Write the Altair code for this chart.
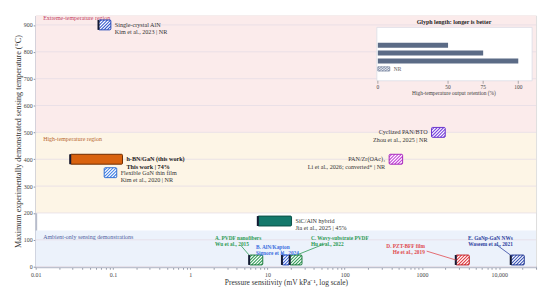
import math
import altair as alt
import pandas as pd

# ---------------- data ----------------
band_name = ["Extreme", "High", "Ambient"]
band_lo = [500, 200, 0]
band_hi = [935, 500, 135]
band_text = ["Extreme-temperature region", "High-temperature region",
             "Ambient-only sensing demonstrations"]
band_text_x = [0.0125, 0.0125, 0.0125]
band_text_t = [927, 477, 112]

y_ticks = [0, 100, 200, 300, 400, 500, 600, 700, 800, 900]
x_major = [0.01, 0.1, 1, 10, 100, 1000, 10000]
x_major_labels = ["0.01", "0.1", "1", "10", "100", "1000", "10,000"]

dev_name = ["Single-crystal AlN", "h-BN/GaN (this work)", "Flexible GaN thin film",
            "Cyclized PAN/BTO", "PAN/Zr(OAc)₄", "SiC/AlN hybrid",
            "A. PVDF nanofibers", "B. AlN/Kapton", "C. Wavy-substrate PVDF",
            "D. PZT-BFF film", "E. GaNp-GaN NWs"]
dev_ref = ["Kim et al., 2023 | NR", "This work | 74%", "Kim et al., 2020 | NR",
           "Zhou et al., 2025 | NR", "Li et al., 2026; converted* | NR",
           "Jia et al., 2025 | 45%", "Wu et al., 2015", "Signore et al., 2024",
           "Hu et al., 2022", "He et al., 2019", "Waseem et al., 2021"]
dev_lo = [0.065, 0.028, 0.077, 1330, 376, 7.5, 5.8, 15.4, 19.4, 2740, 14100]
dev_hi = [0.094, 0.133, 0.112, 2000, 562, 20.5, 8.7, 19.4, 28, 4100, 21100]
dev_temp = [900, 400, 350, 500, 400, 170, 25, 25, 25, 25, 25]
dev_style = ["hatch", "solid", "hatch", "hatch", "hatch", "solid",
             "hatch", "hatch", "hatch", "hatch", "hatch"]
dev_edge = [1, 1, 0, 0, 0, 1, 1, 1, 1, 1, 1]

label_side = ["right", "right", "right", "left", "left", "right"]
label_bold = [0, 1, 0, 0, 0, 0]

callout_x = [2.1, 7.1, 36.5, 1090, 15000]
callout_t = [105, 74, 105, 76, 107]
callout_align = ["left", "left", "left", "right", "right"]
leader_x1 = [4.5, 15.0, 56, 1150, 9400]
leader_t1 = [80, 60, 86, 58, 80]
leader_x2 = [5.8, 15.7, 23.7, 2740, 14500]
leader_t2 = [43, 43, 43, 25, 40]

inset_values = [50, 75, 100]
inset_rows = [0, 1, 2]
inset_ticks = [0, 50, 75, 100]
nr_lo, nr_hi, nr_row = 0, 8.5, 3

# ---------------- styles ----------------
band_fill = ["#fbebeb", "#fdf5e6", "#ecf2fb"]
band_text_color = ["#c2405f", "#b8672e", "#4f5f9e"]
dev_fill = ["#2f55cc", "#d9620f", "#3f7fe6", "#7a44e0", "#c43fd8", "#14786b",
            "#2e9b55", "#3a62da", "#2e9b55", "#e0393f", "#3550b5"]
dev_stroke = ["#2a4cb8", "#6e2c00", "#3a73d2", "#6a35cc", "#a82fbc", "#0b4f46",
              "#257f45", "#2f50b8", "#257f45", "#c42a30", "#2a3f95"]
callout_color = ["#2e9b55", "#3a6ee0", "#2e9b55", "#e04a4f", "#2f43a0"]

FONT = "Liberation Serif"
W_PLOT, H_PLOT = 506, 254
X_DOM = [0.01, 30000]
Y_DOM = [0, 935]
PX_DEC = W_PLOT / math.log10(X_DOM[1] / X_DOM[0])
PX_DEG = H_PLOT / (Y_DOM[1] - Y_DOM[0])
BOX_H = 10
HALF_T = BOX_H / 2 / PX_DEG
SP = 3.2

# ---------------- frames ----------------
bands = pd.DataFrame({"name": band_name, "lo": band_lo, "hi": band_hi, "fill": band_fill})
band_lab = pd.DataFrame({"text": band_text, "x": band_text_x, "t": band_text_t,
                         "c": band_text_color})
grid = pd.DataFrame({"t": y_ticks})
dev = pd.DataFrame({"name": dev_name, "ref": dev_ref, "lo": dev_lo, "hi": dev_hi,
                    "temp": dev_temp, "style": dev_style, "edge": dev_edge,
                    "fill": dev_fill, "stroke": dev_stroke})
lab = dev.iloc[:6].copy()
lab["side"] = label_side
lab["bold"] = label_bold
lab["text"] = lab["name"] + "\n" + lab["ref"]
lab["ax"] = [h if s == "right" else l for h, l, s in zip(lab["hi"], lab["lo"], label_side)]
call = pd.DataFrame({"text": [n + "\n" + r for n, r in zip(dev_name[6:], dev_ref[6:])],
                     "x": callout_x, "t": callout_t, "c": callout_color,
                     "align": callout_align,
                     "x1": leader_x1, "t1": leader_t1, "x2": leader_x2, "t2": leader_t2})

minor = []
for k in range(-2, 5):
    for m in range(1, 10):
        v = m * 10 ** k if k >= 0 else m / 10 ** (-k)
        if v <= X_DOM[1]:
            minor.append(v)
label_expr = ""
for v, s in zip(x_major, x_major_labels):
    label_expr += f"abs(datum.value/{v} - 1) < 1e-6 ? '{s}' : "
label_expr += "''"

xs = alt.Scale(type="log", domain=X_DOM, nice=False)
ys = alt.Scale(domain=Y_DOM, nice=False, zero=False)
x_axis = alt.Axis(title="Pressure sensitivity (mV kPa⁻¹, log scale)", values=minor,
                  labelExpr=label_expr, grid=False, tickSize=2.5, tickColor="#8d93a3",
                  domainColor="#b7bccb", domainWidth=2, labelFontSize=6,
                  labelColor="#444", titleFontSize=7.5, titleFontWeight="normal",
                  titleColor="#333", labelPadding=2, titlePadding=2, labelFlush=False)
y_axis = alt.Axis(title="Maximum experimentally demonstrated sensing temperature (°C)",
                  values=y_ticks, grid=False, tickSize=2.5, tickColor="#8d93a3",
                  domainColor="#b7bccb", domainWidth=2, labelFontSize=6,
                  labelColor="#444", titleFontSize=8.2, titleFontWeight="normal",
                  titleColor="#333", labelPadding=1, titlePadding=1)


def X(f):
    return alt.X(f, type="quantitative", scale=xs, axis=x_axis)


def Y(f):
    return alt.Y(f, type="quantitative", scale=ys, axis=y_axis)


band_layer = alt.Chart(bands).mark_rect().encode(
    x=alt.value(0), x2=alt.value(W_PLOT), y=Y("lo"), y2="hi",
    fill=alt.Fill("fill:N", scale=None))
grid_layer = alt.Chart(grid).mark_rule(color="#e5dde6", strokeWidth=0.8).encode(
    x=alt.value(0), x2=alt.value(W_PLOT), y=Y("t"))
band_text_layer = alt.Chart(band_lab).mark_text(
    align="left", baseline="middle", font=FONT, fontSize=6).encode(
    x=X("x"), y=Y("t"), text="text:N", color=alt.Color("c:N", scale=None))

boxes = alt.Chart(dev).transform_calculate(
    y1=f"datum.temp - {HALF_T}", y2=f"datum.temp + {HALF_T}")
box_fill = boxes.mark_rect(cornerRadius=1).encode(
    x=X("lo"), x2="hi", y=Y("y1"), y2="y2", fill=alt.Fill("fill:N", scale=None))
hatch = alt.Chart(dev).transform_filter("datum.style == 'hatch'").transform_calculate(
    W=f"log(datum.hi/datum.lo)/LN10*{PX_DEC}", ks="sequence(0, 40)"
).transform_flatten(["ks"], as_=["k"]).transform_calculate(
    c=f"-{BOX_H} + 1.2 + datum.k*{SP}"
).transform_filter("datum.c < datum.W").transform_calculate(
    v0="max(0, -datum.c)", v1=f"min({BOX_H}, datum.W - datum.c)"
).transform_filter("datum.v1 > datum.v0").transform_calculate(
    hx1=f"datum.lo*pow(10,(datum.v0+datum.c)/{PX_DEC})",
    hx2=f"datum.lo*pow(10,(datum.v1+datum.c)/{PX_DEC})",
    hy1=f"datum.temp - {HALF_T} + datum.v0/{PX_DEG}",
    hy2=f"datum.temp - {HALF_T} + datum.v1/{PX_DEG}",
).mark_rule(color="white", strokeWidth=1.2).encode(
    x=X("hx1"), x2="hx2", y=Y("hy1"), y2="hy2")
box_outline = boxes.mark_rect(fillOpacity=0, strokeWidth=1, cornerRadius=1).encode(
    x=X("lo"), x2="hi", y=Y("y1"), y2="y2", stroke=alt.Stroke("stroke:N", scale=None))
edges = boxes.transform_filter("datum.edge == 1").mark_rule(
    color="#141a33", strokeWidth=2).encode(x=X("lo"), y=Y("y1"), y2="y2")

lab_right = alt.Chart(lab).transform_filter("datum.side == 'right' && datum.bold == 0").mark_text(
    align="left", baseline="middle", dx=4, font=FONT, fontSize=6.2, lineBreak="\n",
    lineHeight=7.5, color="#333").encode(x=X("ax"), y=Y("temp"), text="text:N")
lab_bold = alt.Chart(lab).transform_filter("datum.bold == 1").mark_text(
    align="left", baseline="middle", dx=4, font=FONT, fontSize=6.2, fontWeight="bold",
    lineBreak="\n", lineHeight=7.5, color="#1a1a1a").encode(
    x=X("ax"), y=Y("temp"), text="text:N")
lab_left = alt.Chart(lab).transform_filter("datum.side == 'left'").mark_text(
    align="right", baseline="middle", dx=-4, font=FONT, fontSize=6.2, lineBreak="\n",
    lineHeight=7.5, color="#333").encode(x=X("ax"), y=Y("temp"), text="text:N")

leaders = alt.Chart(call).mark_rule(strokeWidth=0.8).encode(
    x=X("x1"), x2="x2", y=Y("t1"), y2="t2", color=alt.Color("c:N", scale=None))


def callout_layer(a):
    return alt.Chart(call).transform_filter(f"datum.align == '{a}'").mark_text(
        align=a, baseline="middle", font=FONT, fontSize=5.4, fontWeight="bold",
        lineBreak="\n", lineHeight=6).encode(
        x=X("x"), y=Y("t"), text="text:N", color=alt.Color("c:N", scale=None))


main = alt.layer(band_layer, grid_layer, band_text_layer, box_fill, hatch, box_outline,
                 edges, leaders, callout_layer("left"), callout_layer("right"),
                 lab_right, lab_bold, lab_left)

# ---------------- inset legend ----------------
IX_RANGE = [346, 488]
IY_RANGE = [25, 59]
PXU = (IX_RANGE[1] - IX_RANGE[0]) / 100
PXR = (IY_RANGE[1] - IY_RANGE[0]) / 3
ixs = alt.Scale(domain=[0, 100], range=IX_RANGE, nice=False, zero=False)
iys = alt.Scale(domain=[0, 3], range=IY_RANGE, nice=False, zero=False)


def IX(f):
    return alt.X(f, type="quantitative", scale=ixs, axis=None)


def IY(f):
    return alt.Y(f, type="quantitative", scale=iys, axis=None)


one = alt.Data(values=[{"a": 1}])
frame = alt.Chart(one).mark_rect(fill="white", stroke="#dadde6", strokeWidth=0.8).encode(
    x=alt.value(345), x2=alt.value(502), y=alt.value(12), y2=alt.value(66))
ititle = alt.Chart(one).mark_text(
    font=FONT, fontSize=6, fontWeight="bold", color="#222", baseline="middle").encode(
    x=alt.value(423), y=alt.value(7), text=alt.value("Glyph length: longer is better"))
ibars_df = pd.DataFrame({"v": inset_values, "row": inset_rows})
ibars = alt.Chart(ibars_df).mark_bar(orient="horizontal", size=5, color="#5b6b86").encode(
    x=alt.X("v", type="quantitative", scale=ixs, axis=None, stack=None), y=IY("row"))
nr_df = pd.DataFrame({"lo": [nr_lo], "hi": [nr_hi], "row": [nr_row]})
nr_box = alt.Chart(nr_df).transform_calculate(
    r1=f"datum.row - 3/{PXR}", r2=f"datum.row + 3/{PXR}").mark_rect(
    fill="#e8ecf3", stroke="#7d8aa3", strokeWidth=0.8).encode(
    x=IX("lo"), x2="hi", y=IY("r1"), y2="r2")
nr_hatch = alt.Chart(nr_df).transform_calculate(
    W=f"(datum.hi-datum.lo)*{PXU}", ks="sequence(0, 20)"
).transform_flatten(["ks"], as_=["k"]).transform_calculate(
    c="-6 + 1.2 + datum.k*3"
).transform_filter("datum.c < datum.W").transform_calculate(
    v0="max(0, -datum.c)", v1="min(6, datum.W - datum.c)"
).transform_filter("datum.v1 > datum.v0").transform_calculate(
    hx1=f"datum.lo + (datum.v0+datum.c)/{PXU}",
    hx2=f"datum.lo + (datum.v1+datum.c)/{PXU}",
    hy1=f"datum.row + 3/{PXR} - datum.v0/{PXR}",
    hy2=f"datum.row + 3/{PXR} - datum.v1/{PXR}",
).mark_rule(color="#7d8aa3", strokeWidth=0.9).encode(
    x=IX("hx1"), x2="hx2", y=IY("hy1"), y2="hy2")
nr_text = alt.Chart(nr_df).mark_text(
    align="left", baseline="middle", dx=4, font=FONT, fontSize=5.5, color="#555").encode(
    x=IX("hi"), y=IY("row"), text=alt.value("NR"))
itick_df = pd.DataFrame({"v": inset_ticks})
iticks = alt.Chart(itick_df).mark_rule(color="#888", strokeWidth=0.7).encode(
    x=IX("v"), y=alt.value(66), y2=alt.value(69))
ilabels = alt.Chart(itick_df).mark_text(
    font=FONT, fontSize=5.5, color="#444", baseline="middle").encode(
    x=IX("v"), y=alt.value(72), text=alt.Text("v:Q", format="d"))
iaxtitle = alt.Chart(one).mark_text(
    font=FONT, fontSize=5.5, color="#444", baseline="middle").encode(
    x=alt.value(423), y=alt.value(78),
    text=alt.value("High-temperature output retention (%)"))

inset = alt.layer(frame, ititle, ibars, nr_box, nr_hatch, nr_text, iticks, ilabels, iaxtitle)

chart = alt.layer(main, inset).resolve_scale(x="independent", y="independent").properties(
    width=W_PLOT, height=H_PLOT
).configure_view(stroke=None).configure(font=FONT)

chart.save("out.html", embed_options={"renderer": "svg", "actions": False})
